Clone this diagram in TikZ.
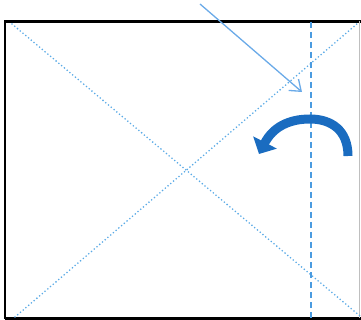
\documentclass[tikz,border=0pt]{standalone}
\usetikzlibrary{arrows.meta}
\definecolor{diagblue}{HTML}{5AAAE6}
\definecolor{foldblue}{HTML}{4A9BE0}
\definecolor{pointerblue}{HTML}{6AAAE8}
\definecolor{turnblue}{HTML}{1A6CC0}
\tikzset{
  frame/.style={black, line width=2.6pt},
  diagline/.style={diagblue, line width=1.8pt, dash pattern=on 0pt off 3.6pt, line cap=round},
  foldline/.style={foldblue, line width=1.6pt, dash pattern=on 6pt off 4pt},
  pointerarrow/.style={pointerblue, line width=1.3pt, -{Straight Barb[length=10pt, width=15pt, line width=1.3pt]}},
  turnarrow/.style={turnblue, line width=9pt, -{Triangle[length=13pt, width=26pt]}}
}
\begin{document}
\begin{tikzpicture}[x=1pt, y=-1pt]
\useasboundingbox (0,0) rectangle (361,320);
\coordinate (tl) at (5,21.5);
\coordinate (tr) at (361,21.5);
\coordinate (bl) at (5,318.5);
\coordinate (br) at (361,318.5);
\coordinate (d1s) at (12,24);
\coordinate (d1e) at (360,316);
\coordinate (d2s) at (15,317);
\coordinate (d2e) at (358,23);
\coordinate (ft) at (311,22);
\coordinate (fb) at (311,320);
\coordinate (ps) at (200,4);
\coordinate (pe) at (302,92);
\coordinate (ts) at (348,156);
\coordinate (ttop) at (310,119);
\coordinate (tend) at (259,154);
% frame
\draw[frame] (tr) -- (tl) -- (bl);
\draw[black, line width=2.2pt] (bl) -- (br);
\draw[black!25, line width=0.6pt] (359.5,21) -- (359.5,318);
% diagonals
\draw[diagline] (d1s) -- (d1e);
\draw[diagline] (d2s) -- (d2e);
% fold line
\draw[foldline] (ft) -- (fb);
% pointer arrow
\draw[pointerarrow] (ps) -- (pe);
% turn arrow
\draw[turnarrow] (ts) .. controls (348,130) and (331,119) .. (ttop)
  .. controls (289,119) and (273,127) .. (tend);
\end{tikzpicture}
\end{document}
